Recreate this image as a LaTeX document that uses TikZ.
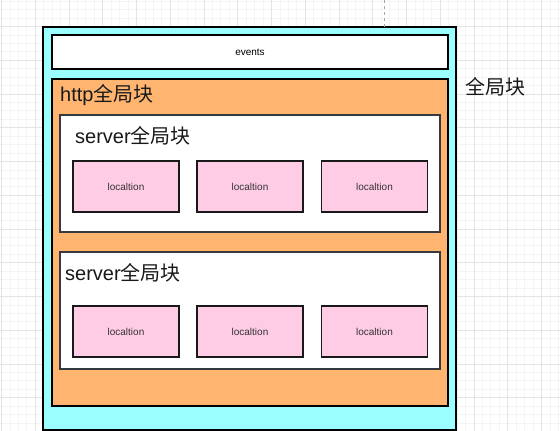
\documentclass[tikz,border=0pt]{standalone}
\usepackage{fontspec}
\setmainfont{Liberation Sans}
\newfontfamily\cjk{Noto Sans CJK SC}
\definecolor{cyanfill}{HTML}{9CFFFF}
\definecolor{orangefill}{HTML}{FFB570}
\definecolor{pinkfill}{HTML}{FFCCE6}
\definecolor{gridminor}{HTML}{F4F4F4}
\definecolor{gridmajor}{HTML}{E4E4E4}
\definecolor{serverline}{HTML}{36393D}
\definecolor{loctext}{HTML}{333333}
\begin{document}
\begin{tikzpicture}[x=1pt,y=-1pt,
  box/.style={draw=black, line width=2pt, inner sep=0pt, outer sep=0pt},
  serverbox/.style={draw=serverline, line width=1.4pt, fill=white, inner sep=0pt, outer sep=0pt,
    minimum width=380pt, minimum height=117pt},
  locbox/.style={draw=black!90, line width=1.6pt, fill=pinkfill, inner sep=0pt, outer sep=0pt,
    minimum width=106pt, minimum height=51pt, font=\fontsize{10}{12}\selectfont, text=loctext},
  biglabel/.style={anchor=base west, inner sep=0pt, font=\fontsize{20}{24}\selectfont, text=black!90}]
\useasboundingbox (0,0) rectangle (560,431);
\fill[white] (0,0) rectangle (560,431);
% grid
\foreach \i in {-1,...,66} {
  \draw[gridminor, line width=0.8pt] ({1.5+8.4375*\i},0) -- ({1.5+8.4375*\i},431);
}
\foreach \i in {-4,...,48} {
  \draw[gridminor, line width=0.8pt] (0,{26.5+8.4375*\i}) -- (560,{26.5+8.4375*\i});
}
\foreach \i in {0,...,16} {
  \draw[gridmajor, line width=0.8pt] ({1.5+33.75*\i},0) -- ({1.5+33.75*\i},431);
}
\foreach \i in {-1,...,12} {
  \draw[gridmajor, line width=0.8pt] (0,{26.5+33.75*\i}) -- (560,{26.5+33.75*\i});
}
% boxes
\node[box, fill=cyanfill, minimum width=413pt, minimum height=403pt] (outer) at (249.5,228.5) {};
\coordinate (guidetop) at (384.3,0);
\draw[gray!70, line width=0.8pt, dash pattern=on 3pt off 3pt] (guidetop) -- (guidetop |- outer.north);
\node[box, fill=white, minimum width=396pt, minimum height=34pt, font=\fontsize{10}{12}\selectfont] (events) at (250,52) {events};
\node[box, fill=orangefill, line width=1.8pt, minimum width=396pt, minimum height=327pt] (http) at (250,242.5) {};
\node[serverbox] (server1) at (250,173.5) {};
\node[serverbox] (server2) at (250,310.5) {};
\node[locbox] (l11) at (126,186.5) {localtion};
\node[locbox] (l12) at (250,186.5) {localtion};
\node[locbox] (l13) at (374.5,186.5) {localtion};
\node[locbox] (l21) at (126,331.5) {localtion};
\node[locbox] (l22) at (250,331.5) {localtion};
\node[locbox] (l23) at (374.5,331.5) {localtion};
% labels
\node[biglabel] (httplabel) at (60,101) {http{\cjk 全局块}};
\node[biglabel] (s1label) at (75,143.3) {server{\cjk 全局块}};
\node[biglabel] (s2label) at (65,280) {server{\cjk 全局块}};
\node[biglabel] (outerlabel) at (465,94.5) {{\cjk 全局块}};
\end{tikzpicture}
\end{document}
